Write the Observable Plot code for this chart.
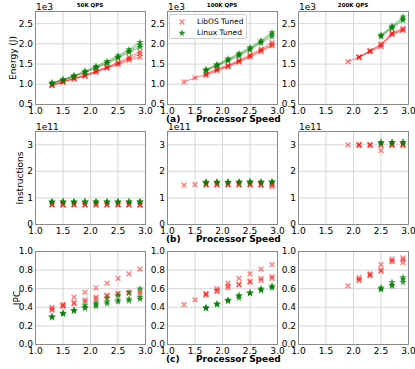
<!DOCTYPE html>
<html><head><meta charset="utf-8">
<script src="https://cdn.jsdelivr.net/npm/d3@7"></script>
<script src="https://cdn.jsdelivr.net/npm/@observablehq/plot@0.6"></script>
<style>
body{margin:0;background:#fff;}
#chart{position:relative;width:415px;height:369px;font-family:"DejaVu Sans",sans-serif;color:#000;overflow:hidden;}
.t{position:absolute;white-space:nowrap;line-height:1;}
.panel{position:absolute;}
</style></head><body><div id="chart"></div><script>
// ---- data (energy in 1e3 J, instructions in 1e11) ----
const speeds = [1.3, 1.5, 1.7, 1.9, 2.1, 2.3, 2.5, 2.7, 2.9];
const qpsLabels = ["50K QPS", "100K QPS", "200K QPS"];
const xTicks = [1.0, 1.5, 2.0, 2.5, 3.0];
const energyTicks = [0.5, 1.0, 1.5, 2.0, 2.5];
const instrTicks = [0, 1, 2, 3];
const ipcTicks = [0.0, 0.2, 0.4, 0.6, 0.8, 1.0];
const seriesNames = ["LibOS Tuned", "Linux Tuned"];

const energy50Libos = [
  [0.98,1.06,1.14,1.21,1.31,1.41,1.51,1.63,1.75],
  [0.99,1.07,1.16,1.23,1.33,1.43,1.54,1.67,1.81],
  [0.97,1.05,1.13,1.20,1.30,1.40,1.49,1.60,1.67]];
const energy50Linux = [
  [1.03,1.11,1.20,1.30,1.42,1.53,1.67,1.82,1.97],
  [1.04,1.12,1.22,1.33,1.45,1.57,1.71,1.86,2.04],
  [1.02,1.10,1.19,1.29,1.40,1.52,1.65,1.79,1.92]];
const energy100Libos = [
  [1.06,1.16,1.24,1.36,1.45,1.57,1.70,1.84,1.98],
  [null,null,1.26,1.38,1.47,1.59,1.73,1.87,2.03],
  [null,null,1.22,1.33,1.43,1.55,1.67,1.81,1.95]];
const energy100Linux = [
  [null,null,1.35,1.47,1.60,1.73,1.88,2.05,2.24],
  [null,null,1.37,1.49,1.63,1.76,1.91,2.08,2.28],
  [null,null,1.33,1.45,1.58,1.70,1.85,2.02,2.18]];
const energy200Libos = [
  [null,null,null,1.56,1.68,1.82,1.98,2.25,2.35],
  [null,null,null,null,1.67,1.83,1.99,2.27,2.38],
  [null,null,null,null,1.66,1.81,1.93,2.23,2.33]];
const energy200Linux = [
  [null,null,null,null,null,null,2.20,2.41,2.62],
  [null,null,null,null,null,null,2.22,2.44,2.67],
  [null,null,null,null,null,null,2.18,2.38,2.58]];

const instr50Libos = [
  [0.75,0.75,0.74,0.75,0.74,0.75,0.74,0.75,0.74],
  [0.74,0.74,0.75,0.74,0.75,0.74,0.75,0.74,0.75],
  [0.76,0.75,0.75,0.75,0.75,0.75,0.75,0.75,0.73]];
const instr50Linux = [
  [0.85,0.85,0.86,0.85,0.86,0.85,0.86,0.85,0.86],
  [0.86,0.86,0.85,0.86,0.85,0.86,0.85,0.86,0.85],
  [0.85,0.85,0.85,0.85,0.85,0.85,0.85,0.85,0.85]];
const instr100Libos = [
  [1.48,1.50,1.50,1.50,1.50,1.50,1.50,1.49,1.43],
  [null,null,1.49,1.49,1.49,1.49,1.49,1.49,1.49],
  [null,null,1.51,1.51,1.51,1.51,1.51,1.51,1.50]];
const instr100Linux = [
  [null,null,1.59,1.59,1.59,1.59,1.60,1.59,1.59],
  [null,null,1.60,1.60,1.60,1.60,1.61,1.60,1.61],
  [null,null,1.58,1.59,1.59,1.60,1.59,1.60,1.60]];
const instr200Libos = [
  [null,null,null,3.00,3.00,3.00,3.00,3.00,3.00],
  [null,null,null,null,2.98,2.98,2.99,2.98,2.98],
  [null,null,null,null,3.01,3.01,2.78,3.01,3.01]];
const instr200Linux = [
  [null,null,null,null,null,null,3.07,3.08,3.08],
  [null,null,null,null,null,null,3.09,3.09,3.10],
  [null,null,null,null,null,null,3.08,3.10,3.09]];

const ipc50Libos = [
  [0.40,0.43,0.51,0.56,0.61,0.66,0.71,0.76,0.81],
  [0.38,0.42,0.45,0.48,0.51,0.53,0.55,0.56,0.57],
  [0.37,0.41,0.44,0.46,0.49,0.52,0.54,0.55,0.55]];
const ipc50Linux = [
  [0.29,0.33,0.36,0.39,0.41,0.44,0.46,0.47,0.49],
  [0.30,0.33,0.37,0.40,0.43,0.46,0.48,0.49,0.51],
  [0.30,0.34,0.37,0.42,0.45,0.50,0.53,0.56,0.60]];
const ipc100Libos = [
  [0.43,0.48,0.55,0.60,0.66,0.71,0.76,0.81,0.86],
  [null,null,0.53,0.57,0.61,0.64,0.67,0.69,0.71],
  [null,null,0.54,0.58,0.63,0.65,0.68,0.71,0.73]];
const ipc100Linux = [
  [null,null,0.39,0.43,0.47,0.50,0.55,0.58,0.61],
  [null,null,0.39,0.44,0.47,0.52,0.56,0.59,0.62],
  [null,null,0.40,0.43,0.48,0.53,0.55,0.60,0.63]];
const ipc200Libos = [
  [null,null,null,0.63,0.70,0.75,0.80,0.90,0.91],
  [null,null,null,null,0.72,0.76,0.79,0.89,0.93],
  [null,null,null,null,0.69,0.74,0.86,0.92,0.88]];
const ipc200Linux = [
  [null,null,null,null,null,null,0.60,0.63,0.67],
  [null,null,null,null,null,null,0.59,0.64,0.70],
  [null,null,null,null,null,null,0.61,0.67,0.72]];

// ---- layout ----
const W = 110, H = 93, ML = 30, MR = 8, MT = 6, MB = 18;
const colLeft = [35, 167, 298];
const rowTop = [11, 131, 251];

const rows = [
  {domain:[0.5,2.8], ticks:energyTicks, fmt:d3.format(".1f"), lines:true, label:"Energy (J)", labelX:13, offset:"1e3", tag:"(a)",
   data:[[energy50Libos,energy50Linux],[energy100Libos,energy100Linux],[energy200Libos,energy200Linux]]},
  {domain:[0,3.5], ticks:instrTicks, fmt:d3.format("d"), lines:false, label:"Instructions", labelX:20, offset:"1e11", tag:"(b)",
   data:[[instr50Libos,instr50Linux],[instr100Libos,instr100Linux],[instr200Libos,instr200Linux]]},
  {domain:[0,1], ticks:ipcTicks, fmt:d3.format(".1f"), lines:false, label:"IPC", labelX:17, offset:null, tag:"(c)",
   data:[[ipc50Libos,ipc50Linux],[ipc100Libos,ipc100Linux],[ipc200Libos,ipc200Linux]]}
];

const TIMES_R = 2.3, STAR_R = 2.3;

function toRecords(runs, series) {
  return runs.flatMap((vals, run) => vals.map((v, i) => v == null ? null : {x: speeds[i], y: v, run, series}).filter(Boolean));
}

const chart = document.getElementById("chart");
function addText(txt, css) {
  const d = document.createElement("div");
  d.className = "t";
  d.textContent = txt;
  Object.assign(d.style, css);
  chart.appendChild(d);
  return d;
}

rows.forEach((row, ri) => {
  row.data.forEach(([libRuns, linRuns], ci) => {
    const lib = toRecords(libRuns, seriesNames[0]);
    const lin = toRecords(linRuns, seriesNames[1]);
    const marks = [
      Plot.gridX(xTicks, {stroke:"#d6d6d6", strokeOpacity:1}),
      Plot.gridY(row.ticks, {stroke:"#d6d6d6", strokeOpacity:1}),
      Plot.axisX(xTicks, {tickSize:0, tickPadding:3, fontSize:9, tickFormat:d3.format(".1f"), label:null}),
      Plot.axisY(row.ticks, {tickSize:0, tickPadding:2.5, fontSize:9, tickFormat:row.fmt, label:null})
    ];
    if (row.lines) {
      marks.push(Plot.line(lib, {x:"x", y:"y", z:"run", stroke:"red", strokeOpacity:0.5, strokeWidth:1}));
      marks.push(Plot.line(lin, {x:"x", y:"y", z:"run", stroke:"green", strokeOpacity:0.5, strokeWidth:1}));
    }
    marks.push(Plot.dot(lib, {x:"x", y:"y", symbol:"times", r:TIMES_R, stroke:"red", strokeOpacity:0.5, strokeWidth:1.4}));
    marks.push(Plot.dot(lin, {x:"x", y:"y", symbol:"star", r:STAR_R, fill:"green", fillOpacity:0.75, stroke:"none"}));
    marks.push(Plot.frame({stroke:"#8a8a8a", strokeWidth:1}));
    const svg = Plot.plot({
      width: W + ML + MR, height: H + MT + MB,
      marginLeft: ML, marginRight: MR, marginTop: MT, marginBottom: MB,
      style: {background:"transparent", overflow:"visible", fontFamily:"DejaVu Sans", fontSize:"9px", color:"#000"},
      x: {domain:[1,3]},
      y: {domain: row.domain},
      marks
    });
    svg.classList.add("panel");
    svg.style.left = (colLeft[ci] - ML) + "px";
    svg.style.top = (rowTop[ri] - MT) + "px";
    svg.style.position = "absolute";
    chart.appendChild(svg);
    if (row.offset) addText(row.offset, {left:(colLeft[ci]+1)+"px", top:(rowTop[ri]-8)+"px", fontSize:"9px"});
    if (ri === 0) addText(qpsLabels[ci], {left:(colLeft[ci]+W/2)+"px", top:"3px", fontSize:"5.5px", fontWeight:"bold", transform:"translateX(-50%)"});
  });
  addText(row.label, {left:row.labelX+"px", top:(rowTop[ri]+H/2)+"px", fontSize:"9px", transform:"translate(-50%,-50%) rotate(-90deg)"});
  addText(row.tag, {left:"166px", top:(rowTop[ri]+H+11)+"px", fontSize:"9px", fontWeight:"bold"});
  addText("Processor Speed", {left:"196px", top:(rowTop[ri]+H+11)+"px", fontSize:"9px", fontWeight:"bold"});
});

// legend (in 100K energy panel)
const leg = document.createElement("div");
Object.assign(leg.style, {position:"absolute", left:"169px", top:"14px", width:"78px", height:"25px", border:"1px solid #d0d0d0", borderRadius:"2px", background:"rgba(255,255,255,0.85)", boxSizing:"border-box"});
chart.appendChild(leg);
const legItems = [
  {name:seriesNames[0], path:d3.symbol(d3.symbolTimes, TIMES_R*TIMES_R*Math.PI)(), attrs:{fill:"none", stroke:"red", "stroke-opacity":0.5, "stroke-width":1.4}},
  {name:seriesNames[1], path:d3.symbol(d3.symbolStar, STAR_R*STAR_R*Math.PI)(), attrs:{fill:"green", "fill-opacity":0.85}}
];
legItems.forEach((it, i) => {
  const s = d3.create("svg").attr("width", 12).attr("height", 12)
    .style("position","absolute").style("left","6px").style("top", (1 + i*11) + "px");
  const p = s.append("path").attr("d", it.path).attr("transform","translate(6,6)");
  Object.entries(it.attrs).forEach(([k,v]) => p.attr(k, v));
  leg.appendChild(s.node());
  const t = document.createElement("div");
  t.className = "t";
  t.textContent = it.name;
  Object.assign(t.style, {left:"27px", top:(3 + i*11)+"px", fontSize:"7.5px"});
  leg.appendChild(t);
});
</script></body></html>
